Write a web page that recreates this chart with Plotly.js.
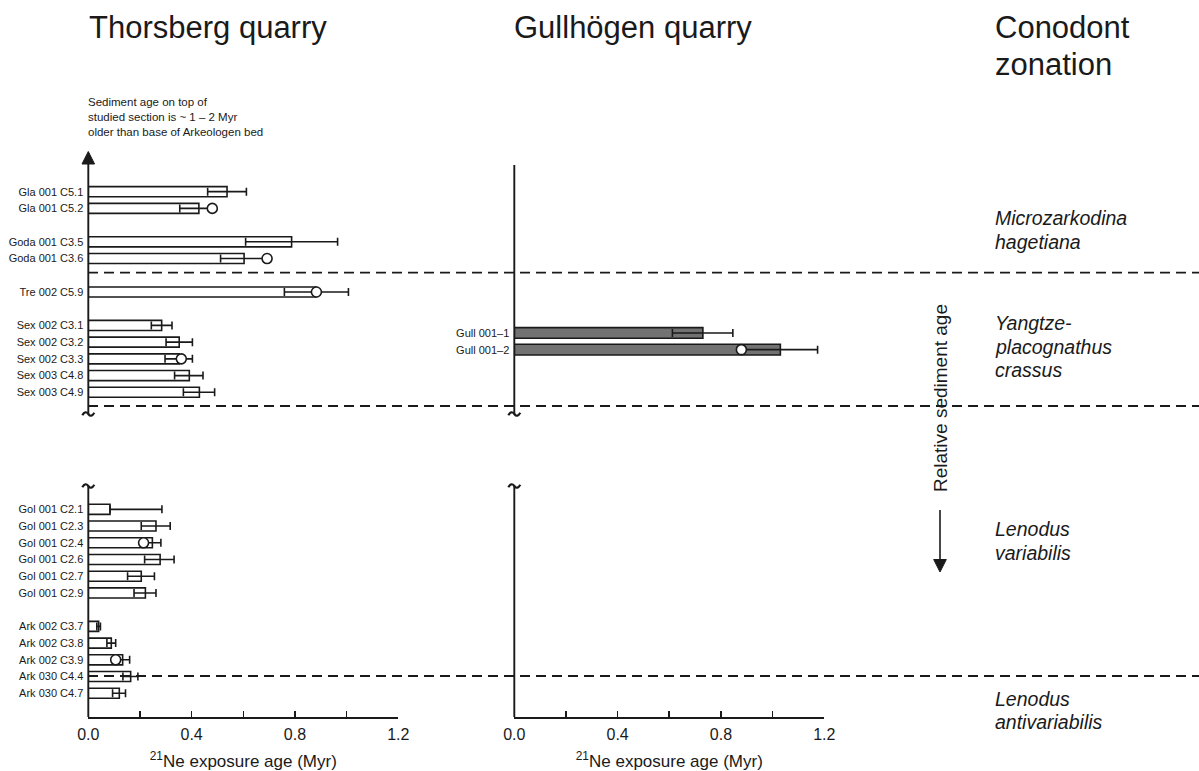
<!DOCTYPE html>
<html><head><meta charset="utf-8">
<script src="https://cdn.plot.ly/plotly-3.0.1.min.js"></script>
<style>html,body{margin:0;padding:0;background:#fff}</style>
</head><body><div id="chart" style="width:1199px;height:771px"></div>
<script>
// ---------- data (Thorsberg quarry, listed top to bottom) ----------
const thorsbergSamples = ["Gla 001 C5.1","Gla 001 C5.2","Goda 001 C3.5","Goda 001 C3.6","Tre 002 C5.9",
  "Sex 002 C3.1","Sex 002 C3.2","Sex 002 C3.3","Sex 003 C4.8","Sex 003 C4.9",
  "Gol 001 C2.1","Gol 001 C2.3","Gol 001 C2.4","Gol 001 C2.6","Gol 001 C2.7","Gol 001 C2.9",
  "Ark 002 C3.7","Ark 002 C3.8","Ark 002 C3.9","Ark 030 C4.4","Ark 030 C4.7"];
const thorsbergAge     = [0.537,0.428,0.787,0.603,0.883, 0.284,0.352,0.352,0.391,0.430, 0.084,0.262,0.248,0.278,0.205,0.221, 0.040,0.089,0.133,0.164,0.120];
const thorsbergErrLow  = [0.462,0.354,0.609,0.512,0.759, 0.244,0.301,0.297,0.334,0.368, 0.084,0.205,0.214,0.218,0.152,0.177, 0.033,0.072,0.106,0.134,0.094];
const thorsbergErrHigh = [0.612,0.480,0.965,0.692,1.007, 0.324,0.403,0.403,0.444,0.489, 0.285,0.317,0.281,0.332,0.256,0.262, 0.047,0.106,0.160,0.192,0.144];
const thorsbergCircle  = [null,0.480,null,0.692,0.883, null,null,0.360,null,null, null,null,0.214,null,null,null, null,null,0.106,null,null];
// blank rows left below a sample (stratigraphic gaps)
const blankRowsBelow = {"Gla 001 C5.2":1,"Goda 001 C3.6":1,"Tre 002 C5.9":1,"Sex 003 C4.9":6,"Gol 001 C2.9":1};

// ---------- data (Gullhögen quarry) ----------
const gullSamples   = ["Gull 001–1","Gull 001–2"];
const gullAge       = [0.730, 1.030];
const gullErrLow    = [0.612, 0.879];
const gullErrHigh   = [0.846, 1.174];
const gullCircle    = [null, 0.879];

// ---------- axis ticks & labels ----------
const xTickVals = [0, 0.4, 0.8, 1.2];
const xTickText = ["0.0","0.4","0.8","1.2"];
const xMinorTickVals = [0.2, 0.6, 1.0];
const xTitle = "<sup>21</sup>Ne exposure age (Myr)";
const zoneLabels = [["Microzarkodina","hagetiana"],["Yangtze-","placognathus","crassus"],["Lenodus","variabilis"],["Lenodus","antivariabilis"]];
const noteText = "Sediment age on top of<br>studied section is ~ 1 – 2 Myr<br>older than base of Arkeologen bed";

// ---------- geometry helpers (reference pixels -> paper) ----------
const W = 1199, H = 771, MB = 54, PH = H - MB;
const px = x => x / W;
const py = y => (PH - y) / PH;
const INK = '#1a1a1a';
const FONT = 'Liberation Sans, Arial, Helvetica, sans-serif';
const AX1 = 88.3, AX2 = 514.3;

// category order (bottom to top) with blank spacer rows
const topDown = [];
let gapN = 0;
thorsbergSamples.forEach(s => {
  topDown.push(s);
  for (let i = 0; i < (blankRowsBelow[s] || 0); i++) topDown.push('__gap' + (++gapN));
});
const thorsbergOrder = topDown.slice().reverse();
const gullOrder = gullSamples.slice().reverse();

const plusOf  = (v, hi) => v.map((a, i) => +(hi[i] - a).toFixed(4));
const minusOf = (v, lo) => v.map((a, i) => +(a - lo[i]).toFixed(4));
const pick = (arr, keys) => {
  const xs = [], ys = [];
  arr.forEach((c, i) => { if (c !== null) { xs.push(c); ys.push(keys[i]); } });
  return {xs, ys};
};

const errStyle = {type:'data', symmetric:false, color:INK, thickness:1.6, width:4};
const circT = pick(thorsbergCircle, thorsbergSamples);
const circG = pick(gullCircle, gullSamples);

const traces = [
  {type:'bar', orientation:'h', x:thorsbergAge, y:thorsbergSamples, xaxis:'x', yaxis:'y', width:0.6,
   marker:{color:'#ffffff', line:{color:INK, width:1.6}}, hoverinfo:'x+y',
   error_x:Object.assign({array:plusOf(thorsbergAge, thorsbergErrHigh), arrayminus:minusOf(thorsbergAge, thorsbergErrLow)}, errStyle)},
  {type:'scatter', mode:'markers', x:circT.xs, y:circT.ys, xaxis:'x', yaxis:'y',
   marker:{symbol:'circle', size:10, color:'#ffffff', line:{color:INK, width:1.6}}},
  {type:'bar', orientation:'h', x:gullAge, y:gullSamples, xaxis:'x2', yaxis:'y2', width:0.64,
   marker:{color:'#727272', line:{color:INK, width:1.6}}, hoverinfo:'x+y',
   error_x:Object.assign({array:plusOf(gullAge, gullErrHigh), arrayminus:minusOf(gullAge, gullErrLow)}, errStyle)},
  {type:'scatter', mode:'markers', x:circG.xs, y:circG.ys, xaxis:'x2', yaxis:'y2',
   marker:{symbol:'circle', size:10, color:'#ffffff', line:{color:INK, width:1.6}}}
];

const xAxisBase = {
  range:[0, 1.2], showline:true, linecolor:INK, linewidth:1.8, showgrid:false, zeroline:false,
  ticks:'inside', ticklen:6, tickwidth:1.6, tickcolor:INK, tickmode:'array', tickvals:xTickVals, ticktext:xTickText,
  minor:{tickmode:'array', tickvals:xMinorTickVals, ticks:'inside', ticklen:6, tickwidth:1.6, tickcolor:INK, showgrid:false},
  tickfont:{size:16, color:INK}, ticklabelstandoff:2,
  title:{text:xTitle, font:{size:17, color:INK}, standoff:13}, fixedrange:true
};
const yTop = (PH - 151.7) / PH;
const yAxisBase = {
  type:'category', categoryorder:'array', showline:false, showgrid:false, zeroline:false, ticks:'',
  tickfont:{size:11, color:INK}, ticklabelstandoff:4, fixedrange:true, domain:[0, yTop]
};

const shapes = [];
const vline = (xPx, yTopPx, yBotPx) => shapes.push({type:'line', xref:'paper', x0:px(xPx), x1:px(xPx), yref:'paper',
  y0:py(yTopPx), y1:py(yBotPx), line:{color:INK, width:1.9}});
vline(AX1, 158, 414); vline(AX1, 486, 717);
vline(AX2, 165, 414); vline(AX2, 486, 717);
[272.7, 406, 676].forEach(yp => shapes.push({type:'line', xref:'paper', x0:px(88), x1:1, yref:'paper', y0:py(yp), y1:py(yp),
  line:{color:INK, width:1.8, dash:'10px,6px'}}));
// arrowheads (filled triangles) and the "relative sediment age" arrow shaft
const tri = (xc, yTipPx, dir) => {
  const h = 12.5, hw = 6.3, yb = yTipPx - dir * h;
  return {type:'path', xref:'paper', yref:'paper', fillcolor:INK, line:{color:INK, width:1},
    path:`M ${px(xc)} ${py(yTipPx)} L ${px(xc - hw)} ${py(yb)} L ${px(xc + hw)} ${py(yb)} Z`};
};
shapes.push(tri(AX1, 151.5, -1));
shapes.push({type:'line', xref:'paper', yref:'paper', x0:px(940), x1:px(940), y0:py(510), y1:py(562), line:{color:INK, width:1.6}});
shapes.push(tri(940, 572, 1));
// axis break marks (small tilde curves)
const tilde = (xc, yc) => ({type:'path', xref:'paper', yref:'paper', line:{color:INK, width:2.2},
  path:`M ${px(xc - 6)} ${py(yc + 1.2)} Q ${px(xc - 3)} ${py(yc - 4)} ${px(xc)} ${py(yc)} T ${px(xc + 6)} ${py(yc - 1.2)}`});
[[AX1, 414], [AX1, 486], [AX2, 414], [AX2, 486]].forEach(([xp, yp]) => shapes.push(tilde(xp, yp)));

const ann = [];
const txt = (text, x, y, size, extra) => ann.push(Object.assign({text, xref:'paper', yref:'paper', x:px(x), y:py(y),
  xanchor:'left', yanchor:'middle', showarrow:false, font:{family:FONT, size, color:INK}}, extra || {}));
txt('Thorsberg quarry', 87, 28, 31);
txt('Gullhögen quarry', 512, 28, 31);
txt('Conodont', 993, 27, 31);
txt('zonation', 993, 65, 31);
txt(noteText, 86, 116.5, 11.5, {align:'left'});
const zoneTop = [218.3, 323.3, 529.3, 699];
zoneLabels.forEach((lines, k) => lines.forEach((l, j) => txt('<i>' + l + '</i>', 993, zoneTop[k] + j * 23.4, 19.5)));
txt('Relative sediment age', 940, 398, 19, {xanchor:'center', textangle:-90});

const layout = {
  width:W, height:H, margin:{l:0, r:0, t:0, b:MB}, paper_bgcolor:'#ffffff', plot_bgcolor:'rgba(0,0,0,0)',
  showlegend:false, font:{family:FONT, color:INK}, bargap:0,
  xaxis:Object.assign({}, xAxisBase, {domain:[px(AX1), px(398.3)], anchor:'y'}),
  xaxis2:Object.assign({}, xAxisBase, {domain:[px(AX2), px(824.3)], anchor:'y2'}),
  yaxis:Object.assign({}, yAxisBase, {anchor:'x', range:[-1.42, 32.39], categoryarray:thorsbergOrder,
    tickmode:'array', tickvals:thorsbergSamples, ticktext:thorsbergSamples}),
  yaxis2:Object.assign({}, yAxisBase, {anchor:'x2', range:[-21.97, 11.84], categoryarray:gullOrder,
    tickmode:'array', tickvals:gullSamples, ticktext:gullSamples}),
  shapes, annotations:ann
};
Plotly.newPlot('chart', traces, layout, {displayModeBar:false, staticPlot:true});
</script></body></html>
